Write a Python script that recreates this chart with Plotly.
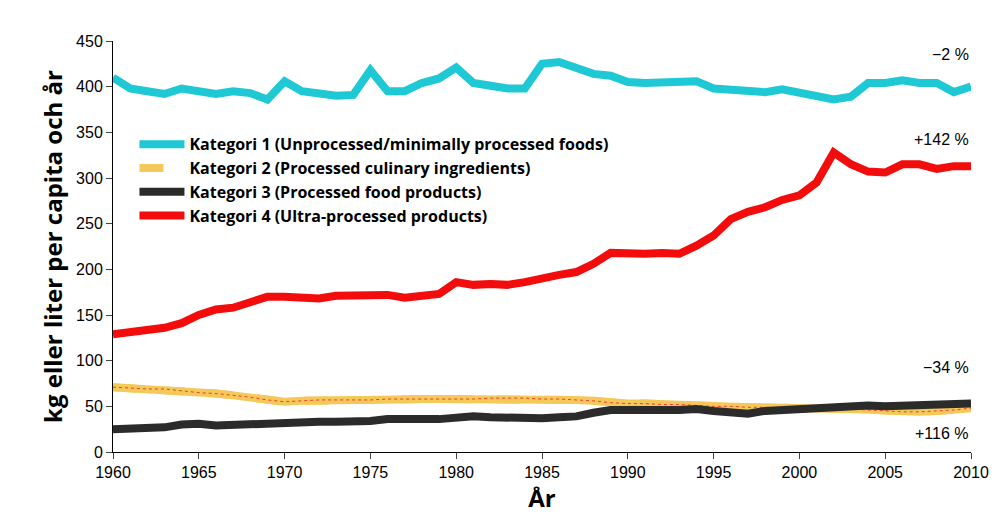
import plotly.graph_objects as go

years = list(range(1960, 2011))

kat1 = [410, 398, 395, 392, 398, 395, 392, 395, 393, 386, 406, 395, 393, 390, 391, 418, 395, 395, 404, 409,
        421, 404, 401, 398, 398, 425, 427, 420, 414, 412, 405, 404, 405, 405, 406, 398, 397, 397, 394, 397,
        393, 389, 386, 389, 404, 404, 407, 404, 404, 394, 400]
kat2 = [71, 70, 69, 69, 67, 65, 64, 62, 60, 57, 55, 56, 57, 57, 57, 57, 58, 58, 58, 58,
        58, 58, 59, 59, 59, 58, 58, 57, 56, 54, 53, 53, 52, 52, 51, 50, 50, 49, 49, 48,
        48, 47, 47, 47, 46, 45, 44, 44, 45, 46, 48]
kat3 = [25, 25, 26, 27, 30, 31, 29, 30, 31, 31, 31, 32, 33, 33, 33, 34, 36, 37, 36, 36,
        38, 39, 38, 37, 37, 37, 38, 39, 43, 46, 46, 47, 46, 46, 47, 45, 43, 42, 45, 46,
        47, 49, 50, 51, 51, 50, 51, 52, 53, 52, 53]
kat4 = [129, 131, 134, 136, 141, 150, 156, 158, 164, 170, 170, 169, 168, 171, 172, 172, 172, 169, 170, 173,
        186, 183, 184, 183, 186, 191, 194, 197, 206, 218, 217, 217, 218, 217, 226, 237, 255, 263, 268, 276,
        281, 295, 328, 315, 307, 306, 315, 315, 310, 313, 313]

names = ["Kategori 1 (Unprocessed/minimally processed foods)",
         "Kategori 2 (Processed culinary ingredients)",
         "Kategori 3 (Processed food products)",
         "Kategori 4 (Ultra-processed products)"]
changes = ["\u22122 %", "+142 %", "\u221234 %", "+116 %"]
change_y = [435, 342, 92, 20]

fig = go.Figure()
fig.add_trace(go.Scatter(x=years, y=kat1, mode="lines", name=names[0],
                         line=dict(color="#1ec8d4", width=8)))
fig.add_trace(go.Scatter(x=years, y=kat2, mode="lines", name=names[1],
                         line=dict(color="#f5c85a", width=8, dash="dash")))
fig.add_trace(go.Scatter(x=years, y=kat2, mode="lines", showlegend=False, hoverinfo="skip",
                         line=dict(color="#f5c85a", width=8)))
fig.add_trace(go.Scatter(x=years, y=kat2, mode="lines", showlegend=False, hoverinfo="skip",
                         line=dict(color="#e8402a", width=1, dash="dot")))
fig.add_trace(go.Scatter(x=years, y=kat3, mode="lines", name=names[2],
                         line=dict(color="#2b2b2b", width=8)))
fig.add_trace(go.Scatter(x=years, y=kat4, mode="lines", name=names[3],
                         line=dict(color="#f20c0c", width=8)))

for txt, yv in zip(changes, change_y):
    fig.add_annotation(x=1, xref="paper", y=yv, yref="y", text=txt, showarrow=False,
                       xanchor="right", font=dict(size=16, color="black"))

fig.update_layout(
    width=1000, height=515,
    margin=dict(l=105, r=37, t=33, b=71, autoexpand=False),
    plot_bgcolor="white", paper_bgcolor="white",
    font=dict(family="Liberation Sans, Arial", color="black"),
    legend=dict(x=0.025, y=0.79, xanchor="left", yanchor="top", bgcolor="rgba(0,0,0,0)",
                font=dict(family="Open Sans", size=16, color="black", weight="bold"),
                tracegroupgap=16, itemwidth=45),
    showlegend=True,
)
fig.update_xaxes(range=[1960, 2010], dtick=5, showgrid=False, showline=True, linecolor="black",
                 ticks="outside", ticklen=6, tickfont=dict(size=16), automargin=False,
                 title=dict(text="År", font=dict(family="Open Sans", size=24, weight="bold"), standoff=4))
fig.update_yaxes(range=[0, 450], dtick=50, showgrid=False, showline=True, linecolor="black",
                 ticks="outside", ticklen=6, tickfont=dict(size=16), zeroline=False, automargin=False,
                 title=dict(text="kg eller liter per capita och år",
                            font=dict(family="Open Sans", size=24, weight="bold"), standoff=6))

fig.write_html("out.html")
